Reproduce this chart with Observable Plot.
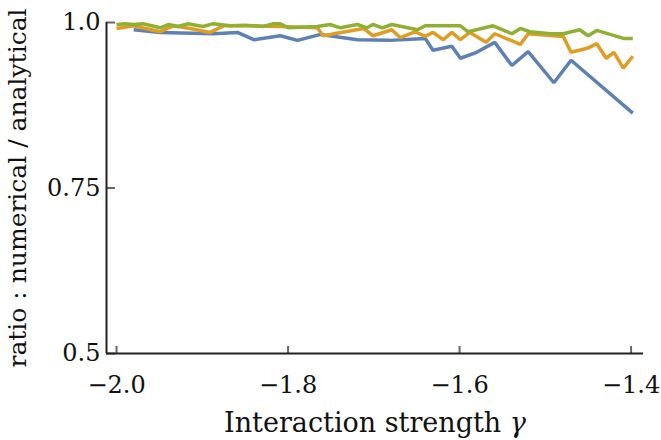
<!DOCTYPE html>
<html><head><meta charset="utf-8">
<script src="https://cdn.jsdelivr.net/npm/d3@7"></script>
<script src="https://cdn.jsdelivr.net/npm/@observablehq/plot@0.6"></script>
<style>body{margin:0;background:#fff}</style>
</head><body><div id="chart"></div>
<script>
const xTicks = [-2.0, -1.8, -1.6, -1.4];
const yTicks = [0.5, 0.75, 1.0];
const xDomain = [-2.0117, -1.3855];
const yDomain = [0.5, 1.0];
const seriesNames = ["series A", "series B", "series C"];
const seriesColors = ["#5E81B5", "#E19C24", "#8FB032"];

const xBlue = [-1.980,-1.949,-1.887,-1.859,-1.840,-1.809,-1.789,-1.762,-1.719,-1.681,-1.640,-1.631,-1.609,-1.599,-1.580,-1.559,-1.539,-1.520,-1.490,-1.470,-1.398];
const yBlue = [0.989,0.985,0.983,0.985,0.974,0.980,0.973,0.982,0.974,0.973,0.976,0.958,0.964,0.946,0.955,0.970,0.935,0.956,0.909,0.943,0.863];

const xOrange = [-2.000,-1.980,-1.949,-1.934,-1.914,-1.891,-1.875,-1.850,-1.809,-1.766,-1.759,-1.712,-1.701,-1.679,-1.669,-1.652,-1.640,-1.631,-1.619,-1.609,-1.599,-1.588,-1.569,-1.559,-1.529,-1.520,-1.479,-1.470,-1.451,-1.440,-1.429,-1.420,-1.409,-1.398];
const yOrange = [0.991,0.995,0.986,0.995,0.991,0.985,0.995,0.995,0.994,0.992,0.980,0.991,0.980,0.989,0.977,0.986,0.979,0.985,0.974,0.985,0.974,0.985,0.970,0.983,0.967,0.983,0.979,0.955,0.961,0.968,0.946,0.955,0.931,0.949];

const xGreen = [-2.000,-1.990,-1.980,-1.969,-1.949,-1.939,-1.929,-1.917,-1.899,-1.888,-1.867,-1.850,-1.829,-1.818,-1.809,-1.800,-1.766,-1.751,-1.739,-1.719,-1.708,-1.701,-1.690,-1.679,-1.649,-1.640,-1.599,-1.590,-1.561,-1.539,-1.529,-1.518,-1.494,-1.479,-1.460,-1.450,-1.440,-1.409,-1.398];
const yGreen = [0.997,0.998,0.997,0.998,0.992,0.997,0.994,0.998,0.994,0.998,0.995,0.996,0.994,0.998,0.998,0.992,0.994,0.997,0.992,0.997,0.992,0.997,0.992,0.997,0.989,0.995,0.995,0.986,0.995,0.983,0.991,0.986,0.983,0.983,0.989,0.980,0.988,0.976,0.976];

const data = [
  ...xBlue.map((x, i) => ({x, y: yBlue[i], s: seriesNames[0]})),
  ...xOrange.map((x, i) => ({x, y: yOrange[i], s: seriesNames[1]})),
  ...xGreen.map((x, i) => ({x, y: yGreen[i], s: seriesNames[2]}))
];

const W = 661, H = 440, mL = 106, mR = 18, mT = 22, mB = 87;
const plotW = W - mL - mR, plotH = H - mT - mB;
const fmtX = d => (d < 0 ? "\u2212" : "") + Math.abs(d).toFixed(1);
const fmtY = d => d === 0.75 ? "0.75" : d.toFixed(1);
const xLabel = "Interaction strength γ";
const yLabel = "ratio : numerical / analytical";

const chart = Plot.plot({
  width: W, height: H,
  marginLeft: mL, marginRight: mR, marginTop: mT, marginBottom: mB,
  style: {fontFamily: "'DejaVu Serif', serif", fontSize: "24px", background: "#fff", overflow: "visible", color: "#111"},
  x: {domain: xDomain},
  y: {domain: yDomain},
  color: {type: "ordinal", domain: seriesNames, range: seriesColors},
  marks: [
    Plot.ruleX(xTicks, {stroke: "#666", strokeWidth: 2, insetTop: plotH - 7}),
    Plot.ruleY(yTicks, {stroke: "#666", strokeWidth: 2, insetRight: plotW - 9}),
    Plot.line(data, {x: "x", y: "y", z: "s", stroke: "s", strokeWidth: 3.5, strokeLinejoin: "miter", strokeLinecap: "butt"}),
    Plot.ruleY([yDomain[0]], {stroke: "#222", strokeWidth: 2}),
    Plot.ruleX([xDomain[0]], {stroke: "#222", strokeWidth: 2}),
    Plot.axisX({ticks: xTicks, tickFormat: fmtX, tickSize: 0, tickPadding: 22,
      label: xLabel, labelArrow: "none", labelAnchor: "center", labelOffset: 78}),
    Plot.axisY({ticks: yTicks, tickFormat: fmtY, tickSize: 0, tickPadding: 6,
      label: yLabel, labelArrow: "none", labelAnchor: "center", labelOffset: 98})
  ]
});
document.getElementById("chart").append(chart);
d3.select(chart).selectAll("text").each(function() {
  const t = this.textContent.trim();
  if (t === xLabel) {
    d3.select(this).style("font-size", "27px");
    this.innerHTML = 'Interaction strength <tspan font-style="italic">γ</tspan>';
  } else if (t === yLabel) {
    d3.select(this).style("font-size", "25px");
  }
});
</script>
</body></html>
